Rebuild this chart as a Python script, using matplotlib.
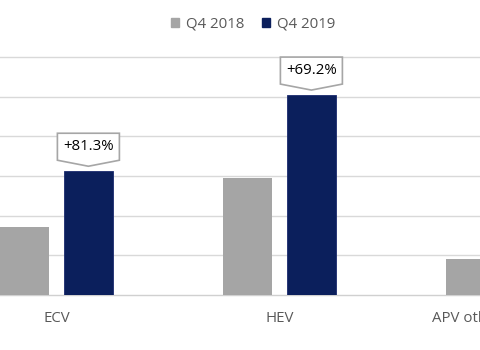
import matplotlib
matplotlib.use('Agg')
import matplotlib.pyplot as plt
import matplotlib.transforms as mtransforms
from matplotlib.patches import Polygon, Patch

categories = ['ECV', 'HEV', 'APV other fuel types']
q4_2018 = [1.71, 2.95, 0.91]
q4_2019 = [3.12, 5.04, 1.30]
growth = ['+81.3%', '+69.2%', '']

gray = '#a5a5a5'
navy = '#0b1f5c'
txtcol = '#595959'

plt.rcParams['font.family'] = ['Open Sans', 'DejaVu Sans']

fig = plt.figure(figsize=(4.8, 3.5), dpi=100)
# axes runs past the right edge of the figure (chart is cropped in the reference)
axw = 1.3
ax = fig.add_axes([0, 55/350., axw, 238/350.])

x = list(range(len(categories)))
off = 0.143
w = 0.22
ax.bar([i - off for i in x], q4_2018, w, color=gray, zorder=3, label='Q4 2018')
ax.bar([i + off for i in x], q4_2019, w, color=navy, edgecolor='#1a2a6e', linewidth=0.6,
       zorder=3, label='Q4 2019')

ax.set_xticks(x)
ax.set_xticklabels(categories, color=txtcol, fontsize=10.8)
ax.set_xlim(-0.2534, -0.2534 + axw*480/223.)
ax.set_ylim(0, 6)
ax.set_yticks([1, 2, 3, 4, 5, 6])
ax.yaxis.grid(True, color='#d9d9d9', linewidth=1, zorder=0)
for g in ax.get_ygridlines():
    g.set_clip_on(False)
ax.tick_params(axis='y', left=False, labelleft=False)
ax.tick_params(axis='x', length=0, pad=11.5)
for s in ['top', 'right', 'left']:
    ax.spines[s].set_visible(False)
ax.spines['bottom'].set_color('#d0d0d0')
ax.spines['bottom'].set_linewidth(1)

# callouts above the 2019 bars (offsets in pixels at 100 dpi)
shape = [(-31, 11), (-31, 38), (31, 38), (31, 11), (0, 5)]
for i, lab in enumerate(growth):
    if not lab:
        continue
    trans = fig.dpi_scale_trans + mtransforms.ScaledTranslation(i + off, q4_2019[i], ax.transData)
    poly = Polygon([(px/100., py/100.) for px, py in shape], closed=True, transform=trans,
                   facecolor='white', edgecolor='#a6a6a6', linewidth=1.2, zorder=5, clip_on=False)
    ax.add_patch(poly)
    ax.text(0, 0.245, lab, transform=trans, ha='center', va='center', fontsize=10.8,
            color='black', zorder=6)

handles = [Patch(color=gray, label='Q4 2018'), Patch(color=navy, label='Q4 2019')]
fig.legend(handles=handles, loc='center', bbox_to_anchor=(253/480., 1 - 24/350.), ncol=2,
           frameon=False, fontsize=10.8, handlelength=0.55, handleheight=0.55,
           handletextpad=0.45, columnspacing=1.2, labelcolor=txtcol)

fig.savefig('out.png', dpi=100)
